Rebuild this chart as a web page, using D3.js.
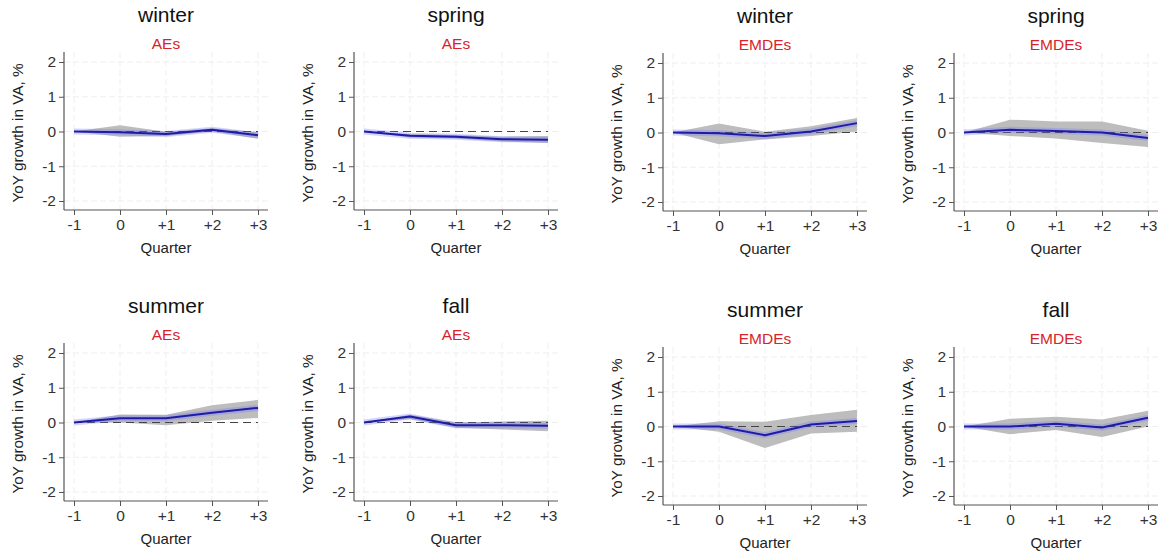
<!DOCTYPE html>
<html>
<head>
<meta charset="utf-8">
<script src="https://cdn.jsdelivr.net/npm/d3@7"></script>
<style>
  html, body { margin: 0; padding: 0; background: #fff; }
  svg { display: block; font-family: "Liberation Sans", Arial, sans-serif; }
</style>
</head>
<body>
<svg id="chart" width="1164" height="552"></svg>
<script>
const quarters = [-1, 0, 1, 2, 3];
const quarterLabels = ["-1", "0", "+1", "+2", "+3"];
const yTicks = [-2, -1, 0, 1, 2];
const yTickLabels = ["-2", "-1", "0", "1", "2"];

// point estimate, lower and upper bound of the shaded band
const aesWinter = [0, -0.02, -0.07, 0.05, -0.11];
const aesWinterLow = [0, -0.15, -0.13, 0.0, -0.21];
const aesWinterHigh = [0, 0.18, -0.01, 0.09, -0.02];

const aesSpring = [0, -0.12, -0.15, -0.22, -0.24];
const aesSpringLow = [0, -0.17, -0.2, -0.29, -0.33];
const aesSpringHigh = [0, -0.07, -0.1, -0.15, -0.13];

const emdesWinter = [0, -0.02, -0.1, 0.03, 0.27];
const emdesWinterLow = [0, -0.34, -0.2, -0.1, 0.03];
const emdesWinterHigh = [0, 0.26, 0.02, 0.18, 0.42];

const emdesSpring = [0, 0.08, 0.04, 0.0, -0.16];
const emdesSpringLow = [0, -0.1, -0.17, -0.3, -0.42];
const emdesSpringHigh = [0, 0.37, 0.32, 0.32, 0.05];

const aesSummer = [0, 0.12, 0.12, 0.28, 0.42];
const aesSummerLow = [0, 0.0, -0.08, 0.05, 0.13];
const aesSummerHigh = [0, 0.23, 0.22, 0.5, 0.65];

const aesFall = [0, 0.17, -0.08, -0.08, -0.09];
const aesFallLow = [0, 0.1, -0.15, -0.2, -0.25];
const aesFallHigh = [0, 0.22, 0.0, 0.03, 0.05];

const emdesSummer = [0, 0.0, -0.25, 0.06, 0.16];
const emdesSummerLow = [0, -0.15, -0.62, -0.2, -0.15];
const emdesSummerHigh = [0, 0.15, 0.14, 0.33, 0.48];

const emdesFall = [0, 0.0, 0.08, -0.03, 0.25];
const emdesFallLow = [0, -0.22, -0.1, -0.3, 0.0];
const emdesFallHigh = [0, 0.22, 0.28, 0.2, 0.45];

const panels = [
  { season: "winter", group: "AEs", mid: aesWinter, lo: aesWinterLow, hi: aesWinterHigh, left: 0, top: 0 },
  { season: "spring", group: "AEs", mid: aesSpring, lo: aesSpringLow, hi: aesSpringHigh, left: 290, top: 0 },
  { season: "winter", group: "EMDEs", mid: emdesWinter, lo: emdesWinterLow, hi: emdesWinterHigh, left: 599, top: 1 },
  { season: "spring", group: "EMDEs", mid: emdesSpring, lo: emdesSpringLow, hi: emdesSpringHigh, left: 890, top: 1 },
  { season: "summer", group: "AEs", mid: aesSummer, lo: aesSummerLow, hi: aesSummerHigh, left: 0, top: 291 },
  { season: "fall", group: "AEs", mid: aesFall, lo: aesFallLow, hi: aesFallHigh, left: 290, top: 291 },
  { season: "summer", group: "EMDEs", mid: emdesSummer, lo: emdesSummerLow, hi: emdesSummerHigh, left: 599, top: 295 },
  { season: "fall", group: "EMDEs", mid: emdesFall, lo: emdesFallLow, hi: emdesFallHigh, left: 890, top: 295 }
];

const svg = d3.select("#chart");

// inner layout of one panel
const axisX = 64, plotTop = 52, axisY = 210, plotRight = 268;
const x = d3.scaleLinear().domain([-1, 3]).range([74, 258]);
const y = d3.scaleLinear().domain([-2, 2]).range([201, 62]);

panels.forEach(p => {
  const g = svg.append("g").attr("transform", `translate(${p.left},${p.top})`);
  const rows = quarters.map((q, i) => ({ q, mid: p.mid[i], lo: p.lo[i], hi: p.hi[i] }));

  // faint grid
  g.append("g").selectAll("line")
    .data(yTicks)
    .join("line")
    .attr("x1", axisX).attr("x2", plotRight)
    .attr("y1", d => y(d)).attr("y2", d => y(d))
    .attr("stroke", "#efefef").attr("stroke-dasharray", "6,3");
  g.append("g").selectAll("line")
    .data(quarters)
    .join("line")
    .attr("x1", d => x(d)).attr("x2", d => x(d))
    .attr("y1", plotTop).attr("y2", axisY)
    .attr("stroke", "#efefef").attr("stroke-dasharray", "6,3");

  // confidence band
  g.append("path")
    .datum(rows)
    .attr("fill", "#bdbdbd")
    .attr("d", d3.area().x(d => x(d.q)).y0(d => y(d.lo)).y1(d => y(d.hi)));

  // zero reference
  g.append("line")
    .attr("x1", x(-1)).attr("x2", x(3))
    .attr("y1", y(0)).attr("y2", y(0))
    .attr("stroke", "#444").attr("stroke-width", 1.2).attr("stroke-dasharray", "8,5");

  const line = d3.line().x(d => x(d.q)).y(d => y(d.mid));
  g.append("path").datum(rows)
    .attr("fill", "none").attr("stroke", "#6f6fff").attr("stroke-opacity", 0.3)
    .attr("stroke-width", 6).attr("stroke-linejoin", "round").attr("d", line);
  g.append("path").datum(rows)
    .attr("fill", "none").attr("stroke", "#1c1ca6")
    .attr("stroke-width", 2).attr("stroke-linejoin", "round").attr("d", line);

  // axes
  const yAxis = g.append("g")
    .attr("transform", `translate(${axisX},0)`)
    .call(d3.axisLeft(y).tickValues(yTicks).tickFormat((d, i) => yTickLabels[i]).tickSize(5).tickPadding(3));
  const xAxis = g.append("g")
    .attr("transform", `translate(0,${axisY})`)
    .call(d3.axisBottom(x).tickValues(quarters).tickFormat((d, i) => quarterLabels[i]).tickSize(5).tickPadding(4));
  [yAxis, xAxis].forEach(a => {
    a.select(".domain").remove();
    a.selectAll("line").attr("stroke", "#555");
    a.selectAll("text").attr("fill", "#333").style("font-size", "15.5px").style("font-family", "Liberation Sans, Arial, sans-serif");
  });
  g.append("line").attr("x1", axisX).attr("x2", axisX).attr("y1", plotTop).attr("y2", axisY)
    .attr("stroke", "#555").attr("stroke-width", 1.2);
  g.append("line").attr("x1", axisX).attr("x2", plotRight).attr("y1", axisY).attr("y2", axisY)
    .attr("stroke", "#555").attr("stroke-width", 1.2);

  // labels
  const cx = (axisX + plotRight) / 2;
  g.append("text").attr("x", cx).attr("y", 22)
    .attr("text-anchor", "middle").attr("fill", "#111").style("font-size", "21px")
    .text(p.season);
  g.append("text").attr("x", cx).attr("y", 49)
    .attr("text-anchor", "middle").attr("fill", "#d8232a").style("font-size", "15.5px")
    .text(p.group);
  g.append("text").attr("x", cx).attr("y", 253)
    .attr("text-anchor", "middle").attr("fill", "#222").style("font-size", "15px")
    .text("Quarter");
  g.append("text")
    .attr("transform", `translate(23,${(plotTop + axisY) / 2 + 2}) rotate(-90)`)
    .attr("text-anchor", "middle").attr("fill", "#222").style("font-size", "15.3px")
    .text("YoY growth in VA, %");
});
</script>
</body>
</html>
